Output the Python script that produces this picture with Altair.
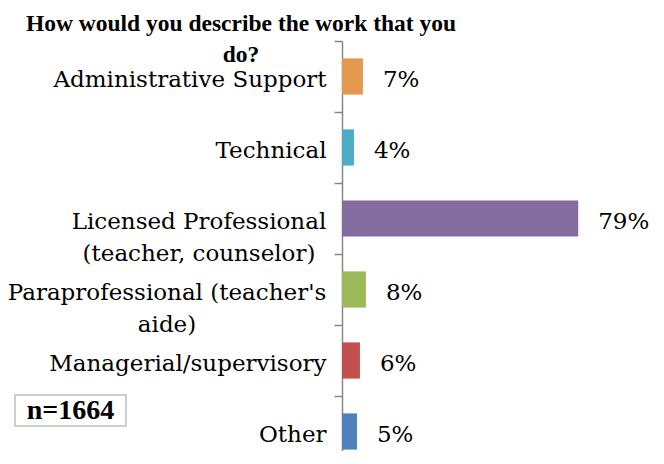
import altair as alt
import pandas as pd

categories = [
    "Administrative Support",
    "Technical",
    "Licensed Professional\n(teacher, counselor)",
    "Paraprofessional (teacher's\naide)",
    "Managerial/supervisory",
    "Other",
]
values = [7, 4, 79, 8, 6, 5]
colors = ["#E4994F", "#4BACC6", "#856C9F", "#9BBB59", "#C0504D", "#4F81BD"]
title_lines = ["How would you describe the work that you", "do?"]
note = "n=1664"

df = pd.DataFrame({
    "category": categories,
    "value": values,
    "label": [f"{v}%" for v in values],
})

FONT = "DejaVu Serif"
TITLE_FONT = "Liberation Serif"
FS = 23

y_scale = alt.Scale(range=[0, 426], paddingInner=0, paddingOuter=0)

y_enc = alt.Y(
    "category:N",
    sort=categories,
    scale=y_scale,
    axis=alt.Axis(
        title=None,
        labelFont=FONT,
        labelFontSize=FS,
        labelColor="#000000",
        labelLimit=0,
        labelPadding=8,
        labelOffset=3,
        labelExpr="indexof(datum.label, '\\n') >= 0 ? '' : datum.label",
        tickSize=8,
        tickWidth=1.5,
        tickColor="#888888",
        tickBand="extent",
        domainColor="#888888",
        domainWidth=1.5,
    ),
)

base = alt.Chart(df)

bars = base.mark_bar(height={"band": 0.51}).encode(
    x=alt.X("value:Q", scale=alt.Scale(domain=[0, 100]), axis=None),
    y=y_enc,
    color=alt.Color("category:N", scale=alt.Scale(domain=categories, range=colors), legend=None),
)

value_text = base.mark_text(
    align="left", baseline="middle", dx=20, dy=3, font=FONT, fontSize=FS, color="#000000"
).encode(
    x=alt.X("value:Q"),
    y=alt.Y("category:N", sort=categories),
    text="label:N",
)


def multiline_label(cat, xpos):
    return base.transform_filter(
        alt.FieldOneOfPredicate(field="category", oneOf=[cat])
    ).transform_calculate(
        lines="split(datum.category, '\\n')"
    ).mark_text(
        align="center", baseline="middle", lineHeight=32, dy=3,
        font=FONT, fontSize=FS, color="#000000"
    ).encode(
        x=alt.value(xpos),
        y=alt.Y("category:N", sort=categories),
        text="lines:N",
    )


lic_label = multiline_label(categories[2], -143)
para_label = multiline_label(categories[3], -175)

one = pd.DataFrame({"k": [0]})

title_text = alt.Chart(one).mark_text(
    align="center", baseline="alphabetic", font=TITLE_FONT, fontSize=23.5, fontWeight="bold",
    lineHeight=31, color="#000000"
).encode(x=alt.value(-101), y=alt.value(-10), text=alt.value(title_lines))

box = alt.Chart(one).mark_rect(fill="#FFFFFF", stroke="#BFBFBF", strokeWidth=1.5).encode(
    x=alt.value(-327), x2=alt.value(-216), y=alt.value(354), y2=alt.value(385)
)

box_text = alt.Chart(one).mark_text(
    align="center", baseline="alphabetic", font=TITLE_FONT, fontSize=28, fontWeight="bold", color="#000000"
).encode(x=alt.value(-271.5), y=alt.value(378), text=alt.value(note))

chart = alt.layer(
    bars, value_text, lic_label, para_label, title_text, box, box_text
).properties(
    width=299,
    height=410,
    autosize=alt.AutoSizeParams(type="none"),
    padding={"left": 334, "top": 33, "right": 15, "bottom": 0},
    background="#FFFFFF",
).configure_view(stroke=None)

chart.save("out.html", embed_options={"renderer": "svg", "actions": False})
